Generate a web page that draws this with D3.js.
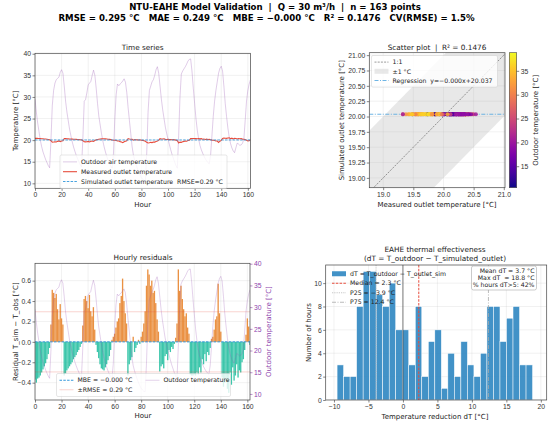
<!DOCTYPE html>
<html>
<head>
<meta charset="utf-8">
<script src="https://cdn.jsdelivr.net/npm/d3@7"></script>
<style>
  body { margin: 0; background: #fff; }
  svg { font-family: "DejaVu Sans", sans-serif; }
</style>
</head>
<body>
<svg id="chart" width="550" height="423"></svg>
<script>
// hourly outdoor air temperature [°C], hours 0..162
const outdoor = [
  29.5, 26.5, 24, 22, 20, 18.5, 17.3, 16.4, 15.5, 14.8, 14.1, 13.6,
  20, 28, 31.5, 33.2, 34, 34.3, 34.6, 35.7, 36.3, 35.5, 32.5, 29,
  26.5, 24.5, 22.5, 21, 19.6, 18.4, 17.4, 16.5, 15.7, 15, 14.3, 13.8,
  20.5, 29, 29.4, 31, 32.8, 33.2, 33.6, 35, 36.2, 35, 32, 28.5,
  25.5, 23.5, 21.5, 19.8, 18.4, 17.2, 16.2, 15.3, 14.6, 14, 13.5,
  17, 25, 30.5, 33, 32.6, 33, 33.3, 33.7, 34.2, 33.4, 31,
  27.5, 24.5, 21.5, 18.5, 16.5, 15.3, 14.3, 13.4, 12.6, 11.9, 11.3, 10.9, 10.6, 10.5,
  17, 26.5, 31.5, 32.5, 33.5, 34, 35, 36.3, 37, 35.5, 32.5, 29.5,
  27, 25, 23, 21.5, 20.2, 19, 17.8, 16.7, 15.8, 14.9, 14.1, 13.5,
  21, 30, 35.3, 36, 36.5, 37, 37.6, 38.3, 38.7, 38.8, 36, 32,
  28.5, 25, 22.3, 20.3, 18.8, 17.8, 17, 16.3, 15.7, 15.2, 14.8, 14.5,
  16.5, 21, 25.5, 29, 31.5, 33.5, 35.5, 36.6, 37.1, 36, 32.5, 28.5,
  25.5, 22.8, 20.7, 19.2, 18.2, 17.5, 17.1, 18.2, 19.3, 19.1, 18.8, 18.9, 19.3, 20.2,
  24.5, 29, 31.5, 33, 34
];

// hourly residual T_sim - T_obs [°C]
const residual = [
  -0.37, -0.40, -0.36, -0.35, -0.33, -0.30, -0.27, -0.24, -0.21, -0.17, -0.12, -0.06,
  0.17, 0.51, 0.48, 0.43, 0.47, 0.32, 0.22, 0.37, 0.23, 0.17,
  -0.33, -0.31, -0.28, -0.26, -0.24, -0.22, -0.20, -0.17, -0.15, -0.13, -0.10, -0.08, -0.05, -0.02,
  0.16, 0.42, 0.45, 0.40, 0.33, 0.46, 0.30, 0.25, 0.34, 0.12,
  -0.03, -0.10, -0.16, -0.22, -0.26, -0.27, -0.28, -0.25, -0.22, -0.18, -0.14, -0.08,
  0.02, 0.05, 0.08, 0.14, 0.20, 0.23, 0.38, 0.45, 0.62, 0.40, 0.28, 0.18,
  -0.33, -0.22, -0.18, -0.15, 0.05, -0.10, -0.06, -0.03, 0.02, -0.02,
  0.05, 0.10, 0.18, 0.30, 0.55, 0.71, 0.66, 0.55, 0.60, 0.48, 0.50, 0.38, 0.22, 0.10,
  -0.29, -0.24, -0.22, -0.26, -0.14, -0.12, -0.18, -0.08, -0.10, -0.05, -0.07, -0.02,
  0.04, 0.18, 0.71, 0.50, 0.55, 0.42, 0.32, 0.25, 0.28, 0.14, 0.08,
  -0.32, -0.33, -0.33, -0.32, -0.33, -0.30, -0.32, -0.25, -0.30, -0.17, -0.22, -0.12, -0.19, -0.10, -0.13, -0.06,
  0.03, 0.05, 0.12, 0.22, 0.25, 0.57, 0.28, 0.10,
  -0.35, -0.44, -0.40, -0.38, -0.46, -0.50, -0.30, -0.42, -0.25, -0.38, -0.33, -0.22, -0.35, -0.28, -0.30, -0.20, -0.17, -0.08,
  0.07, 0.23, 0.15, -0.03
];

const simOutlet = 20.037;           // simulated outlet (flat)
const hours = outdoor.map((d, i) => i);
const measured = residual.map(r => simOutlet - r);

// histogram of dT = T_outdoor - T_outlet_sim
const binStart = -9.55, binWidth = 0.945;
const histCounts = [3, 2, 2, 8, 11, 11, 9, 8, 10, 6, 6, 3, 8, 2, 5, 6, 1, 4, 2, 5, 3, 2, 4, 8, 8, 5, 7, 8, 3, 3];
const dtMedian = 2.3, dtP25 = -3.9, dtP75 = 12.4;
const rmse = 0.295;

const tsTicksX = [0, 20, 40, 60, 80, 100, 120, 140, 160];
const tempTicks = [10, 15, 20, 25, 30, 35, 40];
const scatterTicksX = [19.0, 19.5, 20.0, 20.5, 21.0];
const scatterTicksY = [19.0, 19.25, 19.5, 19.75, 20.0, 20.25, 20.5, 20.75, 21.0];
const resTicks = [-0.4, -0.2, 0.0, 0.2, 0.4, 0.6];
const cbTicks = [15, 20, 25, 30, 35];
const histTicksX = [-10, -5, 0, 5, 10, 15, 20];
const histTicksY = [0, 2, 4, 6, 8, 10];

const svg = d3.select("#chart");
svg.append("rect").attr("width", 550).attr("height", 423).attr("fill", "#fff");

const TICK = 6.8, LAB = 7, TITLE = 7.3, LEG = 6.2;
const OUT_COL = "#9b59b6";

// header
svg.append("text").attr("x", 275).attr("y", 10).attr("text-anchor", "middle")
  .attr("font-size", 8.6).attr("font-weight", "bold").attr("xml:space", "preserve")
  .text("NTU-EAHE Model Validation  |  Q = 30 m³/h  |  n = 163 points");
svg.append("text").attr("x", 266.5).attr("y", 21).attr("text-anchor", "middle")
  .attr("font-size", 8.6).attr("font-weight", "bold").attr("xml:space", "preserve")
  .text("RMSE = 0.295 °C   MAE = 0.249 °C   MBE = −0.000 °C   R² = 0.1476   CV(RMSE) = 1.5%");

let clipId = 0;
function panel(x0, x1, y0, y1) {
  const id = "clip" + (clipId++);
  svg.append("clipPath").attr("id", id).append("rect")
    .attr("x", x0).attr("y", y0).attr("width", x1 - x0).attr("height", y1 - y0);
  const g = svg.append("g");
  const plot = g.append("g").attr("clip-path", `url(#${id})`);
  return { g, plot };
}

function styleAxis(sel, color) {
  sel.select(".domain").remove();
  sel.selectAll("line").attr("stroke", color || "#333").attr("stroke-width", 0.6);
  sel.selectAll("text").attr("font-size", TICK).attr("fill", color || "#333");
}

function grid(plot, xs, ys, xTicks, yTicks, x0, x1, y0, y1) {
  if (xTicks) plot.append("g").selectAll("line").data(xTicks).join("line")
    .attr("x1", d => xs(d)).attr("x2", d => xs(d)).attr("y1", y0).attr("y2", y1)
    .attr("stroke", "#b0b0b0").attr("stroke-opacity", 0.3).attr("stroke-width", 0.6);
  if (yTicks) plot.append("g").selectAll("line").data(yTicks).join("line")
    .attr("y1", d => ys(d)).attr("y2", d => ys(d)).attr("x1", x0).attr("x2", x1)
    .attr("stroke", "#b0b0b0").attr("stroke-opacity", 0.3).attr("stroke-width", 0.6);
}

function frame(g, x0, x1, y0, y1) {
  g.append("rect").attr("x", x0).attr("y", y0).attr("width", x1 - x0).attr("height", y1 - y0)
    .attr("fill", "none").attr("stroke", "#444").attr("stroke-width", 0.7);
}

function label(g, x, y, txt, size, rot, color) {
  const t = g.append("text").attr("text-anchor", "middle").attr("font-size", size)
    .attr("fill", color || "#222").attr("xml:space", "preserve").text(txt);
  if (rot) t.attr("transform", `translate(${x},${y}) rotate(${rot})`);
  else t.attr("x", x).attr("y", y);
  return t;
}

function legend(g, x, y, w, rowH, items, opts) {
  opts = opts || {};
  const cols = opts.cols || 1;
  const rows = Math.ceil(items.length / cols);
  const h = rows * rowH + 4;
  if (!opts.noFrame) {
    g.append("rect").attr("x", x).attr("y", y).attr("width", w).attr("height", h)
      .attr("rx", 1.5).attr("fill", "#fff").attr("fill-opacity", 0.8)
      .attr("stroke", "#ccc").attr("stroke-width", 0.5);
  }
  items.forEach((it, i) => {
    const c = Math.floor(i / rows), r = i % rows;
    const cx = x + 3 + c * (opts.colW || 0);
    const cy = y + 2 + rowH * (r + 0.5);
    if (it.type === "rect") {
      g.append("rect").attr("x", cx).attr("y", cy - 2.5).attr("width", 14).attr("height", 5)
        .attr("fill", it.color).attr("fill-opacity", it.opacity || 1);
    } else {
      g.append("line").attr("x1", cx).attr("x2", cx + 14).attr("y1", cy).attr("y2", cy)
        .attr("stroke", it.color).attr("stroke-width", it.width || 1)
        .attr("stroke-opacity", it.opacity || 1)
        .attr("stroke-dasharray", it.dash || null);
    }
    g.append("text").attr("x", cx + 18).attr("y", cy + 2.2).attr("font-size", LEG)
      .attr("fill", "#222").attr("xml:space", "preserve").text(it.label);
  });
}

// ---------- Time series ----------
{
  const X0 = 35, X1 = 250.5, Y0 = 53.3, Y1 = 188.3;
  const x = d3.scaleLinear().domain([0, 162]).range([X0, X1]);
  const y = d3.scaleLinear().domain([8.85, 40.1]).range([Y1, Y0]);
  const { g, plot } = panel(X0, X1, Y0, Y1);
  grid(plot, x, y, tsTicksX, tempTicks, X0, X1, Y0, Y1);

  const line = d3.line().x((d, i) => x(hours[i])).y(d => y(d));
  plot.append("path").datum(outdoor).attr("d", line).attr("fill", "none")
    .attr("stroke", OUT_COL).attr("stroke-opacity", 0.35).attr("stroke-width", 0.9);
  plot.append("path").datum(measured).attr("d", line).attr("fill", "none")
    .attr("stroke", "#e74c3c").attr("stroke-width", 1.1);
  plot.append("path").datum(hours.map(() => simOutlet)).attr("d", line).attr("fill", "none")
    .attr("stroke", "#3498db").attr("stroke-width", 0.9).attr("stroke-dasharray", "2.5,1.3");

  g.append("g").attr("transform", `translate(0,${Y1})`)
    .call(d3.axisBottom(x).tickValues(tsTicksX).tickSize(2.5).tickPadding(1.5).tickFormat(d3.format("d")))
    .call(styleAxis);
  g.append("g").attr("transform", `translate(${X0},0)`)
    .call(d3.axisLeft(y).tickValues(tempTicks).tickSize(2.5).tickPadding(1.5).tickFormat(d3.format("d")))
    .call(styleAxis);
  frame(g, X0, X1, Y0, Y1);
  label(g, (X0 + X1) / 2, 49.5, "Time series", TITLE);
  label(g, (X0 + X1) / 2, 207, "Hour", LAB);
  label(g, 18.3, (Y0 + Y1) / 2, "Temperature [°C]", LAB, -90);

  legend(g, 60, 155, 167, 9.8, [
    { label: "Outdoor air temperature", color: OUT_COL, opacity: 0.35, width: 0.9 },
    { label: "Measured outlet temperature", color: "#e74c3c", width: 1.1 },
    { label: "Simulated outlet temperature  RMSE=0.29 °C", color: "#3498db", width: 0.9, dash: "2.5,1.3" }
  ]);
}

// ---------- Scatter ----------
{
  const X0 = 369.3, X1 = 505, Y0 = 52.7, Y1 = 187.7;
  const x = d3.scaleLinear().domain([18.77, 21.02]).range([X0, X1]);
  const y = d3.scaleLinear().domain([18.84, 21.04]).range([Y1, Y0]);
  const color = d3.scaleSequential(d3.interpolatePlasma).domain(d3.extent(outdoor));
  const { g, plot } = panel(X0, X1, Y0, Y1);

  const lo = 18.0, hi = 22.0;
  plot.append("path")
    .attr("d", d3.line()([[x(lo), y(lo - 1)], [x(hi), y(hi - 1)], [x(hi), y(hi + 1)], [x(lo), y(lo + 1)]]) + "Z")
    .attr("fill", "#cccccc").attr("fill-opacity", 0.45);
  grid(plot, x, y, scatterTicksX, scatterTicksY, X0, X1, Y0, Y1);
  plot.append("line").attr("x1", x(lo)).attr("y1", y(lo)).attr("x2", x(hi)).attr("y2", y(hi))
    .attr("stroke", "#555").attr("stroke-width", 0.6).attr("stroke-dasharray", "2,1.2");
  plot.append("line").attr("x1", X0).attr("x2", X1).attr("y1", y(simOutlet)).attr("y2", y(simOutlet))
    .attr("stroke", "#5dade2").attr("stroke-width", 0.9).attr("stroke-dasharray", "4,1.5,1,1.5");
  plot.append("g").selectAll("circle").data(measured).join("circle")
    .attr("cx", d => x(d)).attr("cy", y(simOutlet)).attr("r", 2)
    .attr("fill", (d, i) => color(outdoor[i])).attr("fill-opacity", 0.85);

  g.append("g").attr("transform", `translate(0,${Y1})`)
    .call(d3.axisBottom(x).tickValues(scatterTicksX).tickSize(2.5).tickPadding(1.5).tickFormat(d3.format(".1f")))
    .call(styleAxis);
  g.append("g").attr("transform", `translate(${X0},0)`)
    .call(d3.axisLeft(y).tickValues(scatterTicksY).tickSize(2.5).tickPadding(1.5).tickFormat(d3.format(".2f")))
    .call(styleAxis);
  frame(g, X0, X1, Y0, Y1);
  label(g, 437, 49.5, "Scatter plot  |  R² = 0.1476", TITLE);
  label(g, 437, 207, "Measured outlet temperature [°C]", LAB);
  label(g, 343.8, (Y0 + Y1) / 2, "Simulated outlet temperature [°C]", LAB, -90);

  legend(g, 371.5, 55.5, 126, 9.2, [
    { label: "1:1", color: "#555", width: 0.6, dash: "2,1.2" },
    { type: "rect", label: "±1 °C", color: "#cccccc", opacity: 0.45 },
    { label: "Regression  y=−0.000x+20.037", color: "#5dade2", width: 0.9, dash: "4,1.5,1,1.5" }
  ]);

  // colorbar
  const CB0 = 509.3, CB1 = 516.7;
  const cy = d3.scaleLinear().domain(color.domain()).range([Y1, Y0]);
  const grad = svg.append("defs").append("linearGradient").attr("id", "cbgrad")
    .attr("x1", 0).attr("x2", 0).attr("y1", 1).attr("y2", 0);
  d3.range(0, 1.0001, 0.05).forEach(t => grad.append("stop")
    .attr("offset", t).attr("stop-color", d3.interpolatePlasma(t)));
  g.append("rect").attr("x", CB0).attr("y", Y0).attr("width", CB1 - CB0).attr("height", Y1 - Y0)
    .attr("fill", "url(#cbgrad)").attr("stroke", "#444").attr("stroke-width", 0.6);
  g.append("g").attr("transform", `translate(${CB1},0)`)
    .call(d3.axisRight(cy).tickValues(cbTicks).tickSize(2.5).tickPadding(1.5).tickFormat(d3.format("d")))
    .call(styleAxis);
  label(g, 537.5, (Y0 + Y1) / 2, "Outdoor temperature [°C]", LAB, -90);
}

// ---------- Hourly residuals ----------
{
  const X0 = 35, X1 = 250, Y0 = 263.3, Y1 = 400;
  const x = d3.scaleLinear().domain([0, 162]).range([X0, X1]);
  const y = d3.scaleLinear().domain([-0.57, 0.77]).range([Y1, Y0]);
  const y2 = d3.scaleLinear().domain([8.6, 40.1]).range([Y1, Y0]);
  const { g, plot } = panel(X0, X1, Y0, Y1);
  grid(plot, x, y, tsTicksX, resTicks, X0, X1, Y0, Y1);

  const bw = x(1) - x(0);
  plot.append("g").selectAll("rect").data(residual).join("rect")
    .attr("x", (d, i) => x(hours[i]) - bw / 2).attr("width", bw)
    .attr("y", d => y(Math.max(0, d))).attr("height", d => Math.abs(y(d) - y(0)))
    .attr("fill", d => d >= 0 ? "#e67e22" : "#1abc9c").attr("fill-opacity", 0.85);

  [rmse, -rmse].forEach(v => plot.append("line").attr("x1", X0).attr("x2", X1)
    .attr("y1", y(v)).attr("y2", y(v)).attr("stroke", "#e74c3c").attr("stroke-opacity", 0.3)
    .attr("stroke-width", 0.8));
  plot.append("line").attr("x1", X0).attr("x2", X1).attr("y1", y(0)).attr("y2", y(0))
    .attr("stroke", "#3498db").attr("stroke-width", 1).attr("stroke-dasharray", "2.5,1.3");
  plot.append("path").datum(outdoor)
    .attr("d", d3.line().x((d, i) => x(hours[i])).y(d => y2(d)))
    .attr("fill", "none").attr("stroke", OUT_COL).attr("stroke-opacity", 0.3).attr("stroke-width", 0.9);

  g.append("g").attr("transform", `translate(0,${Y1})`)
    .call(d3.axisBottom(x).tickValues(tsTicksX).tickSize(2.5).tickPadding(1.5).tickFormat(d3.format("d")))
    .call(styleAxis);
  g.append("g").attr("transform", `translate(${X0},0)`)
    .call(d3.axisLeft(y).tickValues(resTicks).tickSize(2.5).tickPadding(1.5).tickFormat(d3.format(".1f")))
    .call(styleAxis);
  g.append("g").attr("transform", `translate(${X1},0)`)
    .call(d3.axisRight(y2).tickValues(tempTicks).tickSize(2.5).tickPadding(1.5).tickFormat(d3.format("d")))
    .call(s => styleAxis(s, "#8e44ad"));
  frame(g, X0, X1, Y0, Y1);
  label(g, 143, 259.5, "Hourly residuals", TITLE);
  label(g, 143, 417.5, "Hour", LAB);
  label(g, 18.3, (Y0 + Y1) / 2, "Residual T_sim − T_obs [°C]", LAB, -90);
  label(g, 270.5, (Y0 + Y1) / 2, "Outdoor temperature [°C]", LAB, -90, "#8e44ad");

  legend(g, 56.5, 373.5, 174, 9.5, [
    { label: "MBE = −0.000 °C", color: "#3498db", width: 1, dash: "2.5,1.3" },
    { label: "±RMSE = 0.29 °C", color: "#e74c3c", opacity: 0.3, width: 0.8 },
    { label: "Outdoor temperature", color: OUT_COL, opacity: 0.3, width: 0.9 }
  ], { cols: 2, colW: 86 });
}

// ---------- Histogram ----------
{
  const X0 = 325.7, X1 = 546.7, Y0 = 265, Y1 = 400;
  const x = d3.scaleLinear().domain([-11.2, 20.85]).range([X0, X1]);
  const y = d3.scaleLinear().domain([0, 11.55]).range([Y1, Y0]);
  const { g, plot } = panel(X0, X1, Y0, Y1);
  grid(plot, x, y, histTicksX, histTicksY, X0, X1, Y0, Y1);

  plot.append("g").selectAll("rect").data(histCounts).join("rect")
    .attr("x", (d, i) => x(binStart + i * binWidth))
    .attr("width", x(binWidth) - x(0))
    .attr("y", d => y(d)).attr("height", d => y(0) - y(d))
    .attr("fill", "#2e86c1").attr("fill-opacity", 0.9)
    .attr("stroke", "#fff").attr("stroke-width", 0.5);

  plot.append("line").attr("x1", x(0)).attr("x2", x(0)).attr("y1", Y0).attr("y2", Y1)
    .attr("stroke", "#444").attr("stroke-width", 0.7);
  plot.append("line").attr("x1", x(dtMedian)).attr("x2", x(dtMedian)).attr("y1", Y0).attr("y2", Y1)
    .attr("stroke", "#e74c3c").attr("stroke-width", 1).attr("stroke-dasharray", "2.5,1.3");
  plot.append("line").attr("x1", x(dtP25)).attr("x2", x(dtP25)).attr("y1", Y0).attr("y2", Y1)
    .attr("stroke", "#aaa").attr("stroke-width", 0.8).attr("stroke-dasharray", "0.8,1");
  plot.append("line").attr("x1", x(dtP75)).attr("x2", x(dtP75)).attr("y1", Y0).attr("y2", Y1)
    .attr("stroke", "#aaa").attr("stroke-width", 0.8).attr("stroke-dasharray", "4,1.5,1,1.5");

  g.append("g").attr("transform", `translate(0,${Y1})`)
    .call(d3.axisBottom(x).tickValues(histTicksX).tickSize(2.5).tickPadding(1.2).tickFormat(d3.format("d")))
    .call(styleAxis);
  g.append("g").attr("transform", `translate(${X0},0)`)
    .call(d3.axisLeft(y).tickValues(histTicksY).tickSize(2.5).tickPadding(1.5).tickFormat(d3.format("d")))
    .call(styleAxis);
  frame(g, X0, X1, Y0, Y1);
  label(g, 435, 252, "EAHE thermal effectiveness", TITLE);
  label(g, 435, 260.5, "(dT = T_outdoor − T_simulated_outlet)", TITLE);
  label(g, 435, 418.5, "Temperature reduction dT [°C]", LAB);
  label(g, 310.5, (Y0 + Y1) / 2, "Number of hours", LAB, -90);

  legend(g, 329, 267, 100, 9.5, [
    { type: "rect", label: "dT = T_outdoor − T_outlet_sim", color: "#2e86c1", opacity: 0.9 },
    { label: "Median = 2.3 °C", color: "#e74c3c", width: 1, dash: "2.5,1.3" },
    { label: "P25 = −3.9 °C", color: "#aaa", width: 0.8, dash: "0.8,1" },
    { label: "P75 = 12.4 °C", color: "#aaa", width: 0.8, dash: "4,1.5,1,1.5" }
  ], { noFrame: true });

  // stats box
  g.append("rect").attr("x", 471.5).attr("y", 266).attr("width", 65).attr("height", 24)
    .attr("rx", 2).attr("fill", "#fff").attr("fill-opacity", 0.9)
    .attr("stroke", "#aaa").attr("stroke-width", 0.6);
  ["Mean dT = 3.7 °C", "Max dT  = 18.8 °C", "% hours dT>5: 42%"].forEach((t, i) =>
    g.append("text").attr("x", 534.5).attr("y", 273 + i * 7).attr("text-anchor", "end")
      .attr("font-size", LEG).attr("fill", "#222").attr("xml:space", "preserve").text(t));
}
</script>
</body>
</html>
